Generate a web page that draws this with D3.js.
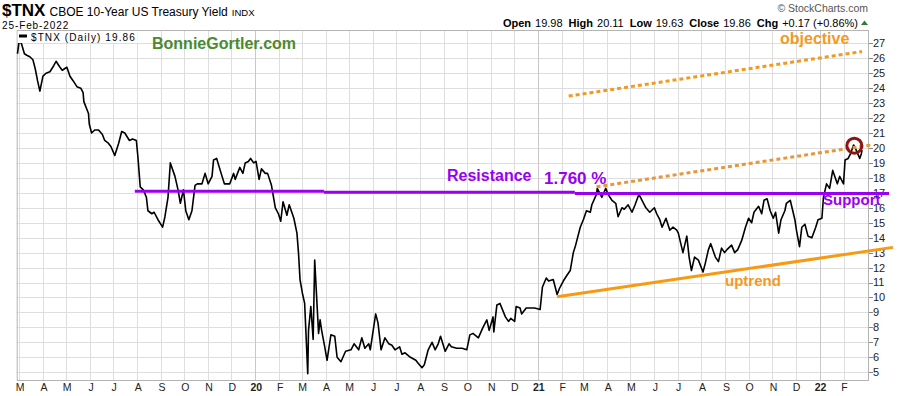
<!DOCTYPE html>
<html>
<head>
<meta charset="utf-8">
<script src="https://cdn.jsdelivr.net/npm/d3@7"></script>
<style>
body { margin: 0; background: #fff; }
text { font-family: "Liberation Sans", Arial, sans-serif; }
</style>
</head>
<body>
<script>
var width = 900, height = 396;

// $TNX daily closes
var dates = [
  "2019-02-27","2019-03-01","2019-03-04","2019-03-08","2019-03-11","2019-03-15","2019-03-19","2019-03-22","2019-03-25","2019-03-28",
  "2019-04-01","2019-04-05","2019-04-10","2019-04-15","2019-04-18","2019-04-23","2019-04-26","2019-05-02","2019-05-06","2019-05-10",
  "2019-05-15","2019-05-20","2019-05-23","2019-05-24","2019-05-30","2019-05-31","2019-06-03","2019-06-07","2019-06-12","2019-06-17",
  "2019-06-20","2019-06-25","2019-06-28","2019-07-03","2019-07-08","2019-07-12","2019-07-16","2019-07-22","2019-07-26","2019-07-31",
  "2019-08-02","2019-08-05","2019-08-09","2019-08-13","2019-08-15","2019-08-20","2019-08-23","2019-08-28","2019-09-03","2019-09-06",
  "2019-09-10","2019-09-13","2019-09-19","2019-09-23","2019-09-26","2019-09-30","2019-10-03","2019-10-07","2019-10-11","2019-10-15",
  "2019-10-18","2019-10-24","2019-10-28","2019-11-01","2019-11-06","2019-11-08","2019-11-12","2019-11-19","2019-11-22","2019-11-29",
  "2019-12-04","2019-12-06","2019-12-12","2019-12-16","2019-12-19","2019-12-23","2019-12-26","2019-12-30","2020-01-02","2020-01-06",
  "2020-01-09","2020-01-14","2020-01-17","2020-01-22","2020-01-27","2020-01-31","2020-02-03","2020-02-06","2020-02-11","2020-02-14",
  "2020-02-18","2020-02-20","2020-02-24","2020-02-26","2020-02-28","2020-03-02","2020-03-05","2020-03-09","2020-03-10","2020-03-13",
  "2020-03-16","2020-03-18","2020-03-23","2020-03-25","2020-03-27","2020-03-31","2020-04-03","2020-04-08","2020-04-13","2020-04-16",
  "2020-04-21","2020-04-27","2020-05-04","2020-05-08","2020-05-14","2020-05-18","2020-05-22","2020-05-27","2020-05-29","2020-06-05",
  "2020-06-08","2020-06-12","2020-06-17","2020-06-22","2020-06-26","2020-06-30","2020-07-06","2020-07-09","2020-07-13","2020-07-20",
  "2020-07-27","2020-07-30","2020-08-04","2020-08-07","2020-08-12","2020-08-17","2020-08-21","2020-08-25","2020-08-28","2020-09-03",
  "2020-09-08","2020-09-11","2020-09-18","2020-09-25","2020-10-01","2020-10-05","2020-10-09","2020-10-16","2020-10-22","2020-10-27",
  "2020-10-30","2020-11-04","2020-11-05","2020-11-09","2020-11-13","2020-11-20","2020-11-24","2020-11-27","2020-12-02","2020-12-04",
  "2020-12-09","2020-12-11","2020-12-17","2020-12-23","2020-12-28","2021-01-04","2021-01-07","2021-01-12","2021-01-15","2021-01-21",
  "2021-01-26","2021-01-29","2021-02-03","2021-02-08","2021-02-12","2021-02-16","2021-02-19","2021-02-25","2021-03-01","2021-03-05",
  "2021-03-10","2021-03-12","2021-03-18","2021-03-19","2021-03-25","2021-03-30","2021-04-02","2021-04-07","2021-04-12","2021-04-15",
  "2021-04-20","2021-04-23","2021-04-28","2021-05-03","2021-05-07","2021-05-12","2021-05-17","2021-05-21","2021-05-26","2021-06-01",
  "2021-06-04","2021-06-08","2021-06-11","2021-06-16","2021-06-21","2021-06-25","2021-06-30","2021-07-02","2021-07-08","2021-07-13",
  "2021-07-16","2021-07-19","2021-07-23","2021-07-28","2021-08-03","2021-08-06","2021-08-10","2021-08-13","2021-08-19","2021-08-23",
  "2021-08-27","2021-08-31","2021-09-03","2021-09-09","2021-09-13","2021-09-17","2021-09-22","2021-09-27","2021-10-01","2021-10-05",
  "2021-10-08","2021-10-14","2021-10-18","2021-10-21","2021-10-25","2021-10-29","2021-11-02","2021-11-05","2021-11-09","2021-11-12",
  "2021-11-17","2021-11-19","2021-11-24","2021-11-30","2021-12-02","2021-12-06","2021-12-09","2021-12-13","2021-12-17","2021-12-22",
  "2021-12-27","2021-12-30","2022-01-04","2022-01-06","2022-01-10","2022-01-14","2022-01-18","2022-01-24","2022-01-27","2022-02-01",
  "2022-02-03","2022-02-07","2022-02-10","2022-02-14","2022-02-17","2022-02-22","2022-02-24","2022-02-25"
];
var values = [
  26.3,27.1,27.0,26.3,26.2,26.1,25.9,25.3,24.5,23.8,
  24.8,25.0,25.1,25.5,25.8,25.4,25.2,25.4,24.8,24.5,
  24.1,24.0,23.7,23.1,22.3,21.6,21.0,21.2,21.2,20.9,
  20.5,20.3,20.1,19.5,20.3,21.1,21.0,20.5,20.6,20.5,
  19.4,17.4,17.2,16.7,15.8,15.6,15.7,15.2,14.7,15.4,
  16.7,19.0,18.1,17.2,16.3,17.2,15.8,15.2,15.8,17.5,
  17.6,17.6,18.3,17.6,18.1,19.2,19.3,18.1,17.6,17.6,
  18.3,17.9,18.7,18.3,19.0,19.1,19.3,19.0,19.1,17.9,
  18.6,18.3,18.3,17.5,16.0,15.6,15.1,16.4,15.5,16.2,
  15.6,15.3,14.3,13.0,11.2,10.3,9.6,4.9,7.8,9.4,
  7.2,12.5,7.6,8.5,7.8,6.7,5.8,7.5,7.4,6.0,
  5.7,6.4,6.5,6.9,6.5,7.3,6.6,6.9,6.5,8.9,
  8.3,6.5,7.3,6.9,6.8,6.5,6.7,6.2,6.3,6.0,
  5.8,5.6,5.3,5.5,6.5,7.0,6.5,6.9,7.4,6.4,
  6.9,6.7,6.6,6.6,6.5,7.5,7.6,7.3,8.0,8.5,
  7.8,8.7,7.7,9.5,9.6,8.7,8.4,8.6,8.4,9.4,
  9.3,8.9,9.3,9.3,9.3,9.2,10.7,11.3,11.1,11.2,
  10.2,10.6,11.1,11.5,11.8,13.0,13.5,14.7,15.2,15.8,
  15.7,16.2,16.9,17.3,16.7,17.3,16.9,16.5,16.3,15.4,
  16.0,15.9,16.2,15.7,16.2,16.9,16.4,16.0,15.7,16.0,
  15.6,15.2,14.7,15.3,14.5,14.7,14.5,14.3,13.0,14.1,
  12.7,11.8,12.7,12.5,11.7,12.3,13.2,13.6,12.7,12.4,
  13.3,13.0,13.2,13.5,13.0,13.2,13.8,14.7,15.3,15.0,
  15.7,16.1,15.6,16.5,16.6,15.8,15.3,15.7,14.3,15.2,
  15.8,16.3,16.5,15.2,14.5,13.4,14.7,14.9,14.1,14.0,
  14.7,15.2,15.3,16.7,17.6,17.3,18.5,17.6,18.1,17.6,
  19.2,19.3,19.6,20.2,19.9,19.3,19.6,19.86
];

// axis labels
var yTicks = d3.range(5, 28);
var monthLetters = ["J","F","M","A","M","J","J","A","S","O","N","D"];

// hand drawn annotations (date, value)
var resistanceSegments = [
  [["2019-07-29", 17.10], ["2020-03-30", 17.10]],
  [["2020-03-30", 17.03], ["2021-02-18", 17.03]],
  [["2021-02-18", 16.96], ["2022-04-01", 16.96]]
];
var uptrendLine = [["2021-01-26", 10.05], ["2022-04-06", 13.35]];
var channelLine = [["2021-03-18", 17.4], ["2022-03-09", 20.2]];
var objectiveLine = [["2021-02-10", 23.47], ["2022-02-25", 26.45]];
var peakCircle = ["2022-02-15", 20.15];

var parse = d3.timeParse("%Y-%m-%d");
var series = dates.map(function(d, i){ return {date: parse(d), value: values[i]}; });

var svg = d3.select("body").append("svg")
    .attr("width", width)
    .attr("height", height);

// plot box (window.top is reserved, so use other names)
var plotLeft = 16.7, plotRight = 869, plotTop = 30, plotBottom = 380;

var x = d3.scaleTime()
    .domain([new Date(2019, 1, 26), new Date(2022, 2, 6)])
    .range([plotLeft, plotRight]);
var y = d3.scaleLinear()
    .domain([4.48, 27.89])
    .range([plotBottom, plotTop]);

// Gridlines
var months = d3.timeMonth.range(new Date(2019, 2, 1), new Date(2022, 2, 1));
var grid = svg.append("g").attr("class", "grid");
grid.selectAll(".hgrid")
    .data(yTicks)
    .enter().append("line")
    .attr("x1", plotLeft).attr("x2", plotRight)
    .attr("y1", function(d){ return Math.round(y(d)) + 0.5; })
    .attr("y2", function(d){ return Math.round(y(d)) + 0.5; })
    .attr("stroke", "#dedede");
grid.selectAll(".vgrid")
    .data(months)
    .enter().append("line")
    .attr("x1", function(d){ return Math.round(x(d)) + 0.5; })
    .attr("x2", function(d){ return Math.round(x(d)) + 0.5; })
    .attr("y1", plotTop).attr("y2", plotBottom)
    .attr("stroke", function(d){ return d.getMonth() == 0 ? "#c8c8c8" : "#dedede"; });

// Plot border
svg.append("rect")
    .attr("x", plotLeft + 0.5).attr("y", plotTop + 0.5)
    .attr("width", plotRight - plotLeft - 1).attr("height", plotBottom - plotTop)
    .attr("fill", "none")
    .attr("stroke", "#b4b4b4");

// Right axis
var yAxis = svg.append("g");
yAxis.selectAll("line")
    .data(yTicks)
    .enter().append("line")
    .attr("x1", plotRight).attr("x2", plotRight + 4)
    .attr("y1", function(d){ return Math.round(y(d)) + 0.5; })
    .attr("y2", function(d){ return Math.round(y(d)) + 0.5; })
    .attr("stroke", "#888");
yAxis.selectAll("text")
    .data(yTicks)
    .enter().append("text")
    .attr("x", plotRight + 4)
    .attr("y", function(d){ return y(d); })
    .attr("dy", "0.36em")
    .attr("font-size", "11px")
    .attr("fill", "#222")
    .text(function(d){ return d; });

// Bottom axis: month initials, two digit year in January
svg.append("g").selectAll("text")
    .data(months)
    .enter().append("text")
    .attr("x", function(d){ return x(d) + 1; })
    .attr("y", 391)
    .attr("text-anchor", "middle")
    .attr("font-size", "10.5px")
    .attr("font-weight", function(d){ return d.getMonth() == 0 ? "bold" : "normal"; })
    .attr("fill", "#222")
    .text(function(d){ return d.getMonth() == 0 ? d3.timeFormat("%y")(d) : monthLetters[d.getMonth()]; });

// Price line
var line = d3.line()
    .x(function(d){ return x(d.date); })
    .y(function(d){ return y(d.value); });
svg.append("path")
    .datum(series)
    .attr("d", line)
    .attr("fill", "none")
    .attr("stroke", "#000")
    .attr("stroke-width", 1.6)
    .attr("stroke-linejoin", "round");

// Annotation lines
var annLine = d3.line()
    .x(function(d){ return x(parse(d[0])); })
    .y(function(d){ return y(d[1]); });
svg.append("g").selectAll("path")
    .data(resistanceSegments)
    .enter().append("path")
    .attr("d", annLine)
    .attr("stroke", "#9a00f0")
    .attr("stroke-width", 3);
svg.append("path")
    .attr("d", annLine(uptrendLine))
    .attr("stroke", "#f79a12")
    .attr("stroke-width", 3);
svg.append("path")
    .attr("d", annLine(channelLine))
    .attr("stroke", "#e8963c")
    .attr("stroke-width", 3)
    .attr("stroke-dasharray", "4,3");
svg.append("path")
    .attr("d", annLine(objectiveLine))
    .attr("stroke", "#f29a1e")
    .attr("stroke-width", 3)
    .attr("stroke-dasharray", "4,3");
svg.append("circle")
    .attr("cx", x(parse(peakCircle[0])))
    .attr("cy", y(peakCircle[1]))
    .attr("r", 7.5)
    .attr("fill", "none")
    .attr("stroke", "#8e1414")
    .attr("stroke-width", 3);

// Annotation texts
var notes = [
  {t: "BonnieGortler.com", x: 152, y: 48.5, size: 16, fill: "#4b8a2e"},
  {t: "objective", x: 780, y: 44, size: 16, fill: "#f39a1e"},
  {t: "Resistance", x: 447, y: 181, size: 16, fill: "#9a00f0"},
  {t: "1.760 %", x: 544, y: 183.5, size: 17, fill: "#9a00f0"},
  {t: "Support", x: 823, y: 205, size: 15, fill: "#9a00f0"},
  {t: "uptrend", x: 725, y: 286, size: 15, fill: "#f39a1e"}
];
svg.append("g").selectAll("text")
    .data(notes)
    .enter().append("text")
    .attr("x", function(d){ return d.x; })
    .attr("y", function(d){ return d.y; })
    .attr("font-size", function(d){ return d.size + "px"; })
    .attr("font-weight", "bold")
    .attr("fill", function(d){ return d.fill; })
    .text(function(d){ return d.t; });

// Legend in the top left of the plot
svg.append("rect")
    .attr("x", plotLeft + 1).attr("y", plotTop + 1)
    .attr("width", 120).attr("height", 12)
    .attr("fill", "#fff");
svg.append("line")
    .attr("x1", 19).attr("x2", 27)
    .attr("y1", 36).attr("y2", 36)
    .attr("stroke", "#000").attr("stroke-width", 3);
svg.append("text")
    .attr("x", 31).attr("y", 40.5)
    .attr("font-family", "DejaVu Sans")
    .attr("font-size", "10px")
    .attr("letter-spacing", "1.1px")
    .attr("fill", "#000")
    .text("$TNX (Daily) 19.86");

// Header
var title = svg.append("text").attr("x", 2).attr("y", 16).attr("fill", "#000");
title.append("tspan").attr("font-size", "17px").attr("font-weight", "bold").text("$TNX");
title.append("tspan").attr("font-size", "12px").attr("dx", 4).text("CBOE 10-Year US Treasury Yield");
title.append("tspan").attr("font-size", "9.5px").attr("dx", 4).text("INDX");
svg.append("text")
    .attr("x", 2).attr("y", 28.5)
    .attr("font-family", "DejaVu Sans")
    .attr("font-size", "10px")
    .attr("letter-spacing", "0.9px")
    .text("25-Feb-2022");

svg.append("text")
    .attr("x", 868).attr("y", 12)
    .attr("text-anchor", "end")
    .attr("font-size", "10.5px")
    .attr("fill", "#555")
    .text("\u00a9 StockCharts.com");

var quote = [["Open", "19.98"], ["High", "20.11"], ["Low", "19.63"], ["Close", "19.86"], ["Chg", "+0.17 (+0.86%)"]];
var q = svg.append("text").attr("x", 858).attr("y", 26.5).attr("text-anchor", "end").attr("font-size", "11px").attr("fill", "#000");
quote.forEach(function(d, i){
  q.append("tspan").attr("font-weight", "bold").attr("dx", i == 0 ? 0 : 6).text(d[0]);
  q.append("tspan").attr("dx", 4).text(d[1]);
});
svg.append("path")
    .attr("d", "M861,25 L868,25 L864.5,20.5 Z")
    .attr("fill", "#2e7d32");
</script>
</body>
</html>
